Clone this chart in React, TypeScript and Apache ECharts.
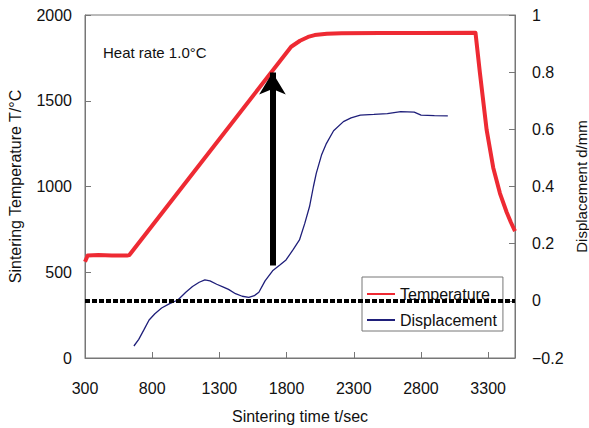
import React, { useEffect, useRef } from "react";
import * as echarts from "echarts";

const tempTime = [300, 320, 400, 500, 612, 630, 1834, 1900, 1960, 2009, 2100, 2209, 2500, 2800, 3206, 3239, 3289, 3338, 3388, 3438, 3470, 3500];
const tempValue = [561, 598, 600, 598, 597, 600, 1815, 1850, 1872, 1883, 1890, 1893, 1895, 1895, 1897, 1662, 1330, 1110, 960, 850, 790, 740];

const dispTime = [664, 700, 740, 777, 820, 870, 930, 991, 1050, 1100, 1150, 1192, 1230, 1280, 1330, 1368, 1420, 1470, 1519, 1560, 1594, 1640, 1696, 1750, 1796, 1850, 1896, 1935, 1971, 2000, 2021, 2060, 2097, 2150, 2223, 2280, 2349, 2450, 2550, 2650, 2750, 2801, 2900, 3000];
const dispValue = [-0.158, -0.135, -0.1, -0.067, -0.045, -0.025, -0.01, 0.003, 0.03, 0.05, 0.065, 0.073, 0.07, 0.058, 0.048, 0.04, 0.025, 0.016, 0.012, 0.018, 0.03, 0.07, 0.105, 0.125, 0.143, 0.18, 0.213, 0.27, 0.33, 0.4, 0.446, 0.51, 0.551, 0.595, 0.627, 0.64, 0.65, 0.652, 0.655, 0.662, 0.66, 0.65, 0.648, 0.647];

const arrowTime = 1695;
const arrowFrom = 540;
const arrowTo = 1665;

const FONT = "'Liberation Sans', Arial, sans-serif";

export default function App() {
  const ref = useRef<HTMLDivElement>(null);
  useEffect(() => {
    if (!ref.current) return;
    const chart = echarts.init(ref.current, undefined, { renderer: "svg" });
    const axisColor = "#777";
    chart.setOption({
      animation: false,
      textStyle: { fontFamily: FONT },
      grid: {
        left: 85,
        right: 74,
        top: 15,
        bottom: 70,
        show: true,
        borderColor: axisColor,
        borderWidth: 1,
        containLabel: false,
        outerBoundsMode: "none",
      },
      legend: {
        orient: "vertical",
        left: 362,
        top: 277,
        padding: [9, 6, 3, 4],
        itemGap: 10,
        itemWidth: 28,
        itemHeight: 14,
        borderColor: "#777",
        borderWidth: 1,
        itemStyle: { opacity: 0 },
        textStyle: { fontSize: 16, color: "#111", fontFamily: FONT },
        data: ["Temperature", "Displacement"],
      },
      graphic: [
        {
          type: "text",
          left: 103,
          top: 45,
          style: { text: "Heat rate 1.0°C", fontSize: 15, fill: "#111", fontFamily: FONT },
        },
      ],
      xAxis: {
        type: "value",
        min: 300,
        max: 3500,
        interval: 500,
        name: "Sintering time t/sec",
        nameLocation: "middle",
        nameGap: 50,
        nameTextStyle: { fontSize: 16, color: "#111", fontFamily: FONT },
        axisLine: { lineStyle: { color: axisColor } },
        axisTick: { inside: true, length: 6, lineStyle: { color: axisColor } },
        axisLabel: { fontSize: 16, color: "#111", margin: 22, showMaxLabel: false, formatter: (v: number) => String(v) },
        splitLine: { show: false },
      },
      yAxis: [
        {
          type: "value",
          min: 0,
          max: 2000,
          interval: 500,
          name: "Sintering Temperature T/°C",
          nameLocation: "middle",
          nameGap: 62,
          nameTextStyle: { fontSize: 16, color: "#111", fontFamily: FONT },
          axisLine: { show: true, lineStyle: { color: axisColor } },
          axisTick: { show: true, inside: true, length: 6, lineStyle: { color: axisColor } },
          axisLabel: { fontSize: 16, color: "#111", margin: 13, formatter: (v: number) => String(v) },
          splitLine: { show: false },
        },
        {
          type: "value",
          min: -0.2,
          max: 1,
          interval: 0.2,
          position: "right",
          name: "Displacement d/mm",
          nameLocation: "middle",
          nameGap: 57,
          nameTextStyle: { fontSize: 15, color: "#111", fontFamily: FONT },
          axisLine: { show: true, lineStyle: { color: axisColor } },
          axisTick: { show: true, inside: true, length: 6, lineStyle: { color: axisColor } },
          axisLabel: {
            fontSize: 16,
            color: "#111",
            margin: 17,
            formatter: (v: number) => {
              const r = Math.round(v * 10) / 10;
              if (r === 0) return "0";
              if (r === 1) return "1";
              return r < 0 ? "\u2212" + Math.abs(r).toFixed(1) : r.toFixed(1);
            },
          },
          splitLine: { show: false },
        },
      ],
      series: [
        {
          name: "Displacement",
          type: "line",
          yAxisIndex: 1,
          symbol: "none",
          data: dispTime.map((t, i) => [t, dispValue[i]]),
          lineStyle: { color: "#1f1f7a", width: 1.3 },
          itemStyle: { color: "#1f1f7a" },
          z: 3,
          markLine: {
            silent: true,
            symbol: ["none", "none"],
            label: { show: false },
            lineStyle: { color: "#000", width: 4, type: [5, 2] },
            data: [{ yAxis: 0 }],
            z: 5,
          },
        },
        {
          name: "Temperature",
          type: "line",
          yAxisIndex: 0,
          symbol: "none",
          data: tempTime.map((t, i) => [t, tempValue[i]]),
          lineStyle: { color: "#ee2a33", width: 4, join: "round" },
          itemStyle: { color: "#ee2a33" },
          z: 4,
          markLine: {
            silent: true,
            symbol: ["none", "arrow"],
            symbolSize: [20, 22],
            label: { show: false },
            lineStyle: { color: "#000", width: 6, type: "solid" },
            data: [[{ coord: [arrowTime, arrowFrom] }, { coord: [arrowTime, arrowTo] }]],
            z: 6,
          },
        },
      ],
    });
    return () => chart.dispose();
  }, []);
  return <div ref={ref} style={{ width: 589, height: 428, position: "absolute", left: 0, top: 0 }} />;
}
